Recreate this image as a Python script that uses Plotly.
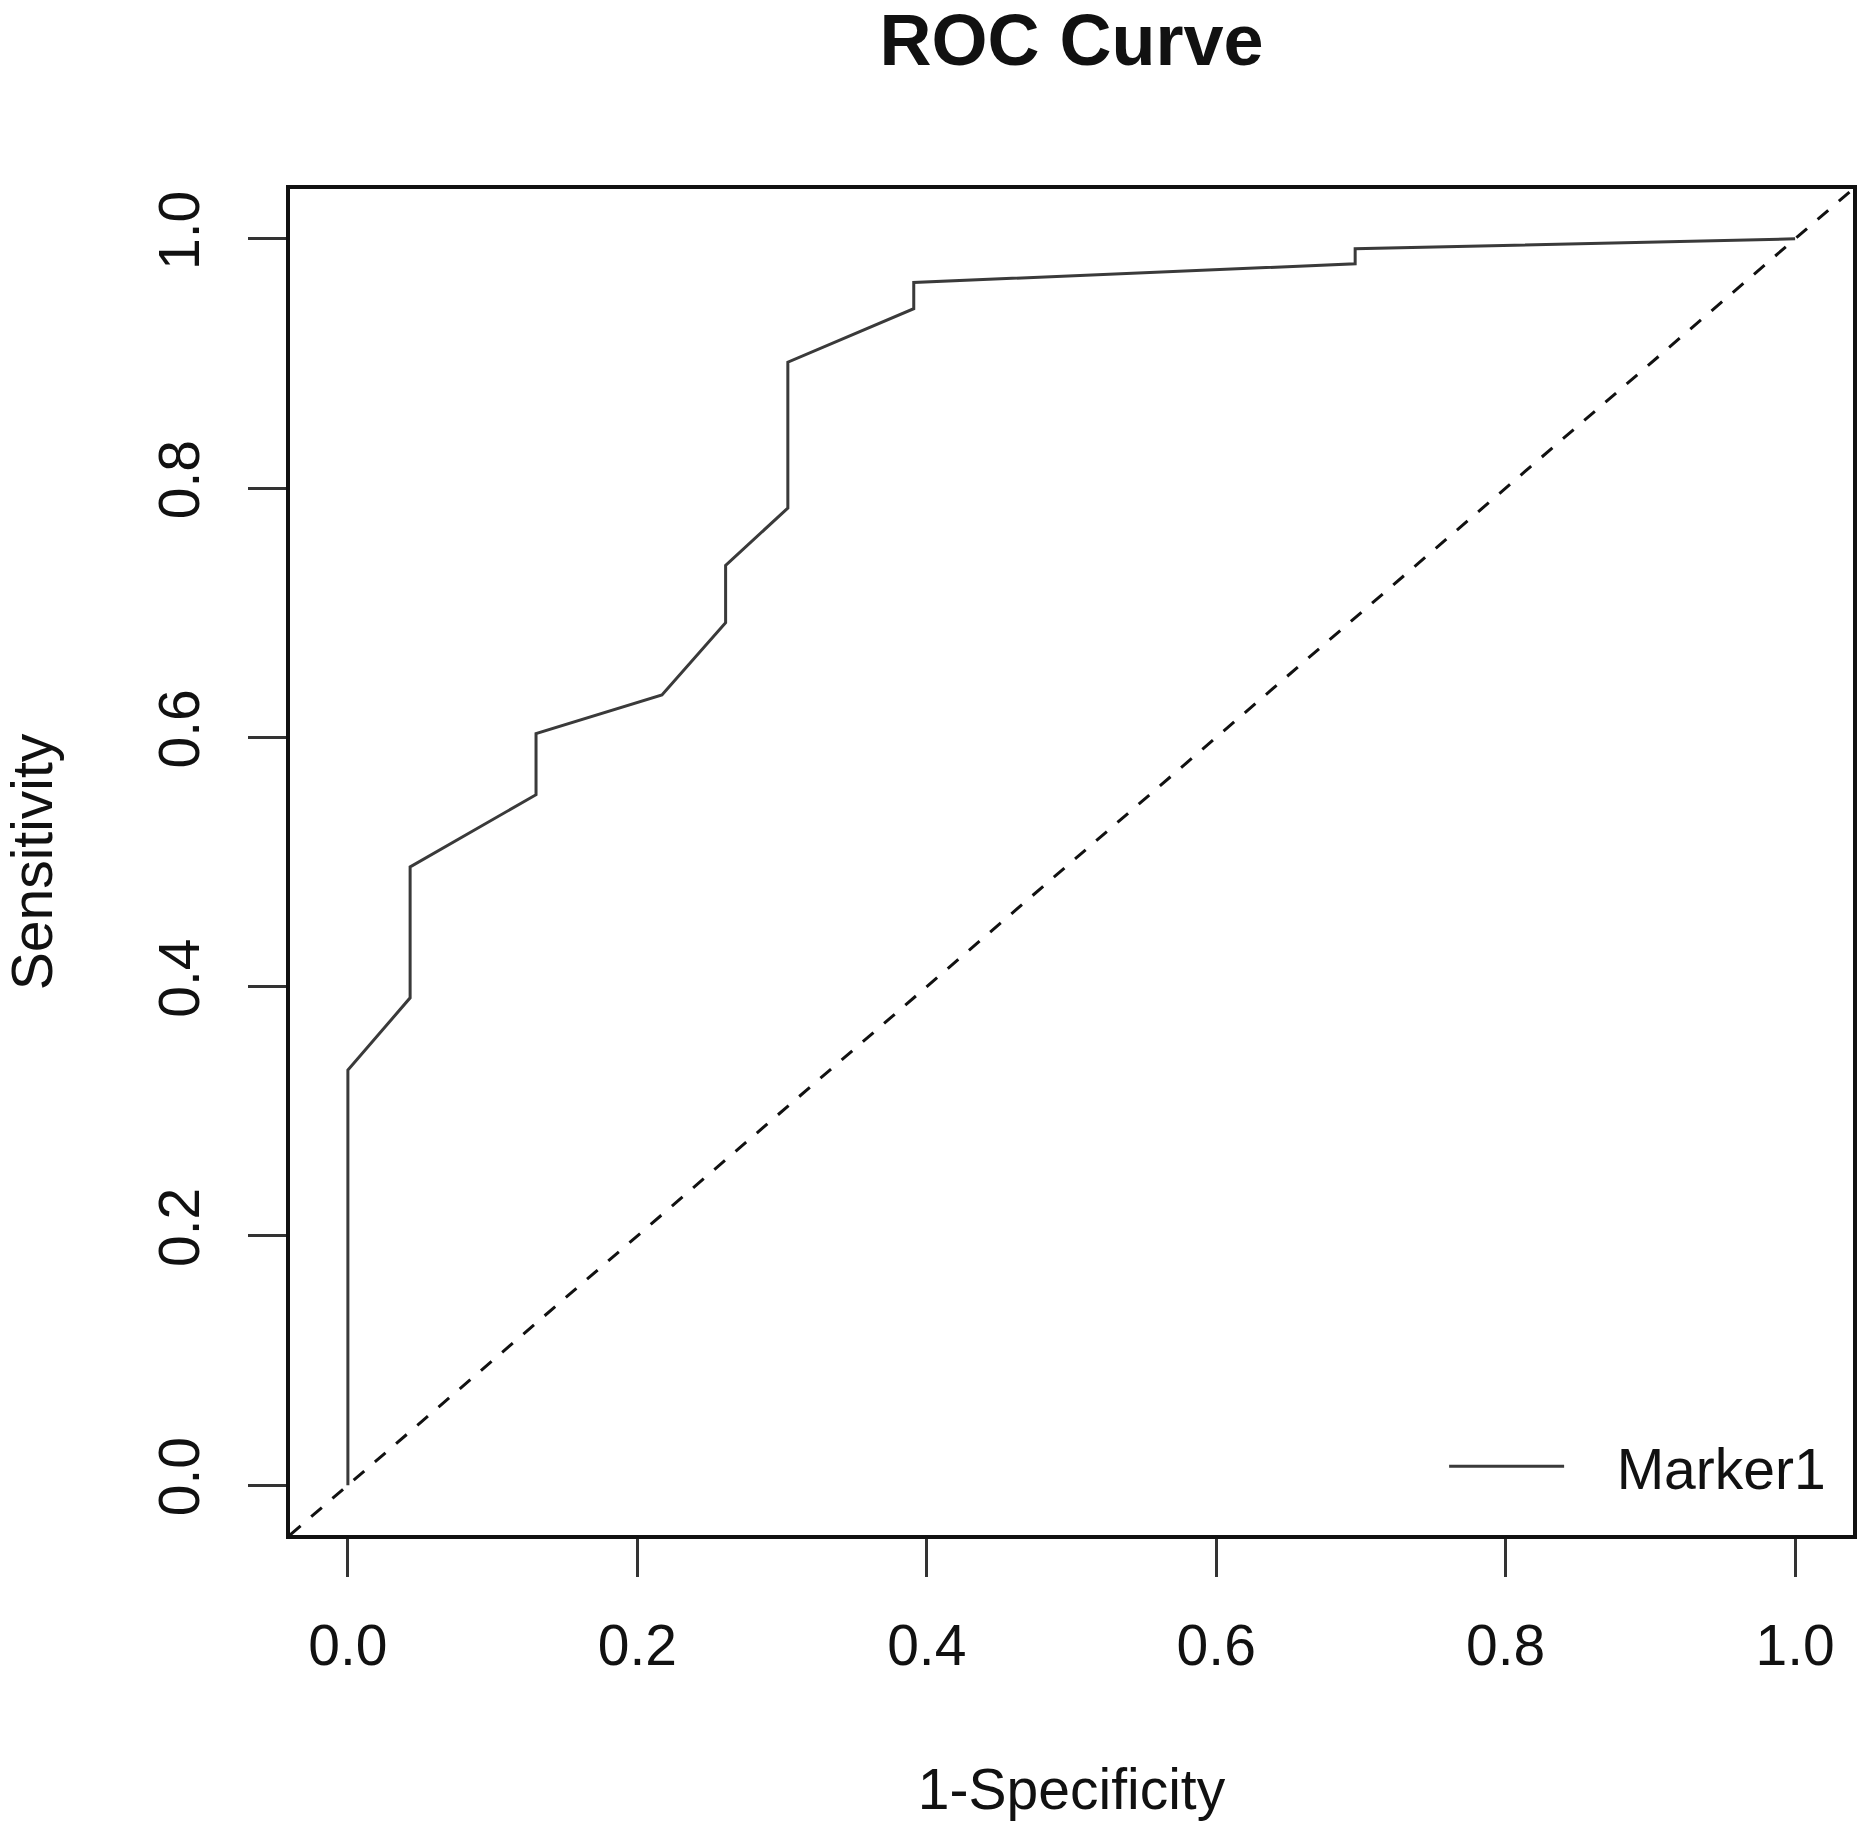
import plotly.graph_objects as go

# ROC points (1-specificity, sensitivity)
fpr = [0.000, 0.000, 0.043, 0.043, 0.130, 0.130, 0.217, 0.261, 0.261,
       0.304, 0.304, 0.391, 0.391, 0.696, 0.696, 1.000]
tpr = [0.000, 0.333, 0.391, 0.496, 0.554, 0.603, 0.634, 0.692, 0.738,
       0.784, 0.901, 0.944, 0.965, 0.980, 0.992, 1.000]

# chance line
ref_x = [-0.04, 1.04]
ref_y = [-0.04, 1.04]

tick_vals = [0.0, 0.2, 0.4, 0.6, 0.8, 1.0]
tick_text = ["0.0", "0.2", "0.4", "0.6", "0.8", "1.0"]

FONT = "Liberation Sans, Arial, Helvetica, sans-serif"

fig = go.Figure()

fig.add_trace(go.Scatter(
    x=ref_x, y=ref_y, mode="lines", showlegend=False, hoverinfo="skip",
    line=dict(color="#111111", width=3, dash="14px,14px"),
))

# nbsp padding gives the gap between legend line and label
fig.add_trace(go.Scatter(
    x=fpr, y=tpr, mode="lines", name="\u00a0\u00a0\u00a0Marker1",
    line=dict(color="#3a3a3a", width=3),
))

axis_common = dict(
    range=[-0.04, 1.04],
    tickvals=tick_vals,
    ticktext=tick_text,
    ticks="outside",
    ticklen=38,
    tickwidth=3,
    tickcolor="#333333",
    showline=True,
    mirror=True,
    linecolor="#111111",
    linewidth=4,
    showgrid=False,
    zeroline=False,
    tickfont=dict(family=FONT, size=57, color="#111111"),
)

fig.update_layout(
    width=1871,
    height=1840,
    margin=dict(l=290, r=18, t=189, b=305),
    paper_bgcolor="white",
    plot_bgcolor="white",
    font=dict(family=FONT, color="#111111"),
    title=dict(
        text="<b>ROC Curve</b>",
        font=dict(family=FONT, size=72, color="#111111"),
        x=0.5, xref="paper", xanchor="center",
        y=1 - 40 / 1840, yref="container", yanchor="middle",
    ),
    xaxis=dict(
        axis_common,
        ticklabelstandoff=20,
        title=dict(text="1-Specificity", standoff=94,
                   font=dict(family=FONT, size=57, color="#111111")),
    ),
    yaxis=dict(
        axis_common,
        tickangle=-90,
        ticklabelstandoff=26,
        title=dict(text="Sensitivity", standoff=92,
                   font=dict(family=FONT, size=57, color="#111111")),
    ),
    legend=dict(
        x=0.986, y=0.018, xanchor="right", yanchor="bottom",
        bgcolor="rgba(0,0,0,0)",
        font=dict(family=FONT, size=57, color="#111111"),
        itemwidth=115,
    ),
)

fig.write_html("out.html", config={"displayModeBar": False},
               post_script="document.body.style.margin='0';")
